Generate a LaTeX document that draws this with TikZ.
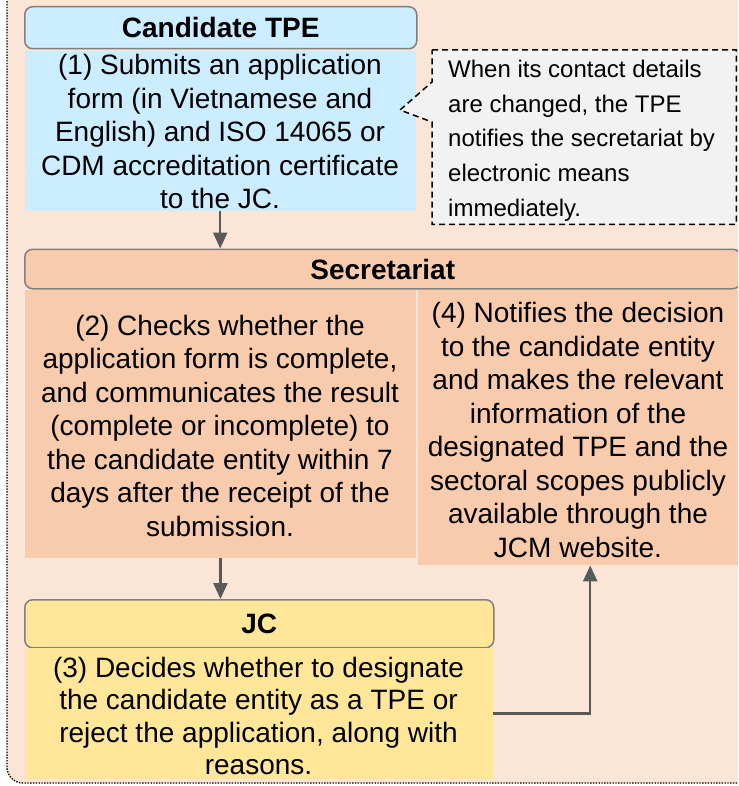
\documentclass[tikz,border=0pt]{standalone}
\usepackage{fontspec}
\setmainfont{Liberation Sans}
\usetikzlibrary{arrows.meta,calc}
\definecolor{bgpeach}{HTML}{FBE5D6}
\definecolor{tpeblue}{HTML}{CCECFF}
\definecolor{secor}{HTML}{F8CBAD}
\definecolor{jcgold}{HTML}{FFE699}
\definecolor{notegray}{HTML}{F2F2F2}
\definecolor{hdrline}{HTML}{808080}
\definecolor{arrowc}{HTML}{595959}
\begin{document}
\begin{tikzpicture}[x=1pt,y=-1pt,
  hdr/.style={draw=hdrline, line width=1.5pt, rounded corners=8pt, anchor=north west, inner sep=0pt, font=\fontsize{28}{33.5}\selectfont\bfseries},
  bodybox/.style={anchor=north west, inner sep=0pt, draw=none},
  bodytext/.style={align=center, inner sep=0pt, anchor=north, font=\fontsize{28}{33.5}\selectfont},
  flow/.style={draw=arrowc, line width=2.5pt, -{Triangle[length=16pt,width=14pt]}},
]
\useasboundingbox (0,0) rectangle (738,786);
\clip (0,0) rectangle (738,786);
\fill[white] (0,0) rectangle (738,786);
\draw[fill=bgpeach, draw=black, line width=1.4pt, dash pattern=on 1.4pt off 1.4pt, rounded corners=16pt] (7,-40) rectangle (780,783);

% Candidate TPE
\node[hdr, fill=tpeblue, minimum width=392pt, minimum height=42pt] (tpehdr) at (24,6) {Candidate TPE};
\node[bodybox, fill=tpeblue, minimum width=391pt, minimum height=160pt] (tpebody) at (24.5,51) {};
\node[bodytext] (tpetext) at (220,54.5) {(1) Submits an application\\form (in Vietnamese and\\English) and ISO 14065 or\\CDM accreditation certificate\\to the JC.};

% callout
\node[anchor=north west, inner sep=0pt, minimum width=304pt, minimum height=174pt] (note) at (432,50) {};
\coordinate (tip) at (400,110);
\draw[fill=notegray, line width=1.5pt, dash pattern=on 6pt off 4pt]
  (note.north west) -- (note.north east) -- (note.south east) -- (note.south west)
  -- ($(note.north west)+(0,72)$) -- (tip) -- ($(note.north west)+(0,32)$) -- cycle;
\node[anchor=north west, align=left, inner sep=0pt, font=\fontsize{24}{34.75}\selectfont] (notetext) at (448,59.8)
  {When its contact details\\are changed, the TPE\\notifies the secretariat by\\electronic means\\immediately.};

% Secretariat
\node[hdr, fill=secor, minimum width=716pt, minimum height=39.5pt] (sechdr) at (24,248.5) {Secretariat};
\node[bodybox, fill=secor, minimum width=391.5pt, minimum height=268pt] (secleft) at (24.5,290) {};
\node[bodybox, fill=secor, minimum width=320pt, minimum height=275pt] (secright) at (418,290) {};
\node[bodytext] (sectext2) at (220,315) {(2) Checks whether the\\application form is complete,\\and communicates the result\\(complete or incomplete) to\\the candidate entity within 7\\days after the receipt of the\\submission.};
\node[bodytext] (sectext4) at (578,302.5) {(4) Notifies the decision\\to the candidate entity\\and makes the relevant\\information of the\\designated TPE and the\\sectoral scopes publicly\\available through the\\JCM website.};

% JC
\node[hdr, fill=jcgold, minimum width=469pt, minimum height=48pt] (jchdr) at (24,599) {JC};
\node[bodybox, fill=jcgold, minimum width=468.5pt, minimum height=131pt] (jcbody) at (24.5,648) {};
\node[bodytext, font=\fontsize{28}{32.5}\selectfont] (jctext) at (258.5,657) {(3) Decides whether to designate\\the candidate entity as a TPE or\\reject the application, along with\\reasons.};

% connectors
\coordinate (turn) at ($(secright.south)+(12,0)$);
\draw[flow] (tpebody.south) -- (tpebody.south |- sechdr.north);
\draw[flow] (secleft.south) -- (secleft.south |- jchdr.north);
\draw[flow] (jcbody.east) -| (turn);
\end{tikzpicture}
\end{document}
